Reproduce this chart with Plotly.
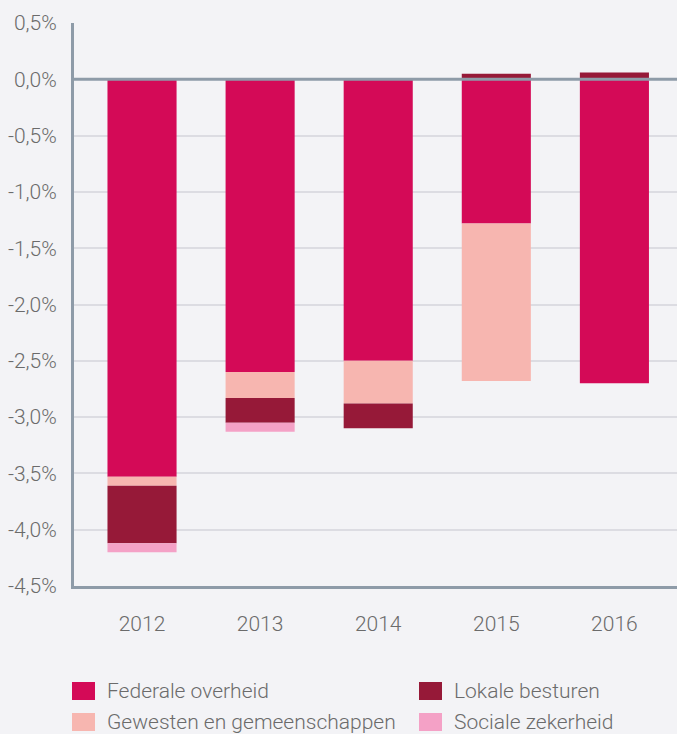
import plotly.graph_objects as go

years = ["2012", "2013", "2014", "2015", "2016"]
federale = [-3.53, -2.60, -2.50, -1.28, -2.70]
gewesten = [-0.08, -0.23, -0.38, -1.40, 0.0]
lokale = [-0.51, -0.22, -0.22, 0.05, 0.06]
sociale = [-0.08, -0.08, 0.0, 0.0, 0.0]

series_names = ["Federale overheid", "Gewesten en gemeenschappen", "Lokale besturen", "Sociale zekerheid"]
series_colors = ["#d40a57", "#f7b6b0", "#961938", "#f4a1c6"]
series_values = [federale, gewesten, lokale, sociale]

y_tickvals = [0.5, 0.0, -0.5, -1.0, -1.5, -2.0, -2.5, -3.0, -3.5, -4.0, -4.5]
y_ticktext = ["0,5%", "0,0%", "-0,5%", "-1,0%", "-1,5%", "-2,0%", "-2,5%", "-3,0%", "-3,5%", "-4,0%", "-4,5%"]

W, H = 677, 734
L, R, T, B = 74, 0, 23, 148
pw = W - L - R
ph = H - T - B

fig = go.Figure()
for name, color, vals in zip(series_names, series_colors, series_values):
    fig.add_trace(go.Bar(x=years, y=vals, name=name, marker=dict(color=color, line=dict(width=0)),
                         showlegend=False, hoverinfo="skip"))

font = dict(family="Roboto", size=21, color="#6b6b6b", weight=300)
axis_color = "#8e9ba8"

fig.update_layout(
    width=W, height=H,
    margin=dict(l=L, r=R, t=T, b=B, pad=0),
    paper_bgcolor="#f3f3f6", plot_bgcolor="#f3f3f6",
    barmode="relative", bargap=0.415,
    font=font,
    xaxis=dict(type="category", range=[-0.576, 4.53], showline=True, linecolor=axis_color, linewidth=3,
               showgrid=False, ticks="", ticklabelstandoff=17, tickfont=font),
    yaxis=dict(range=[-4.5, 0.5], tickvals=y_tickvals, ticktext=y_ticktext, showline=True,
               linecolor=axis_color, linewidth=3, showgrid=True, gridcolor="#dcdce2", gridwidth=1.5,
               zeroline=False, ticks="", ticklabelstandoff=10, tickfont=font),
    shapes=[dict(type="line", xref="paper", yref="y", x0=0, x1=1, y0=0, y1=0,
                 line=dict(color=axis_color, width=3), layer="above")],
)

# custom legend (two columns)
legend_order = [0, 2, 1, 3]
legend_pos = [(72, 691), (419, 691), (72, 722), (419, 722)]
for idx, (px, py) in zip(legend_order, legend_pos):
    fig.add_shape(type="rect", xref="paper", yref="paper",
                  x0=(px - L) / pw, x1=(px + 23 - L) / pw,
                  y0=(H - B - (py + 9)) / ph, y1=(H - B - (py - 9)) / ph,
                  fillcolor=series_colors[idx], line=dict(width=0))
    fig.add_annotation(xref="paper", yref="paper", x=(px + 33 - L) / pw, y=(H - B - py) / ph,
                       text=series_names[idx], showarrow=False, xanchor="left", yanchor="middle",
                       font=font)

fig.write_html("out.html", config={"displayModeBar": False},
               post_script="document.body.style.margin='0';document.body.style.background='#f3f3f6';")
